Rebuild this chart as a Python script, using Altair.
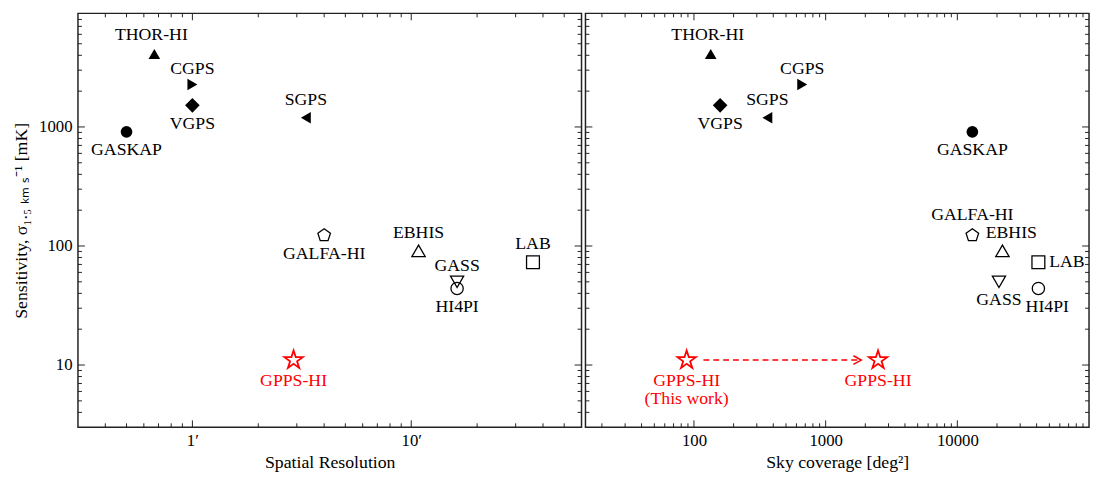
import math
import altair as alt
import pandas as pd

# ------------------------------------------------------------------ data
surveys = ["THOR-HI", "CGPS", "VGPS", "GASKAP", "SGPS",
           "GALFA-HI", "EBHIS", "GASS", "HI4PI", "LAB"]
resolution_arcmin = [0.67, 1.0, 1.0, 0.5, 3.3, 4.0, 10.8, 16.2, 16.2, 36.0]
sensitivity_mK = [4100, 2270, 1520, 910, 1195, 123, 91, 50, 44, 73]
sky_coverage_deg2 = [134, 664, 158, 13000, 361, 13000, 22000, 20700, 41253, 41253]

gpps_name = "GPPS-HI"
gpps_resolution_arcmin = [2.9]
gpps_sensitivity_mK = [11.0, 11.0]
gpps_coverage_deg2 = [88, 2500]
gpps_right_labels = ["GPPS-HI\n(This work)", "GPPS-HI"]

# tick values
y_major = [10, 100, 1000]
y_minor = [4, 5, 6, 7, 8, 9, 20, 30, 40, 50, 60, 70, 80, 90,
           200, 300, 400, 500, 600, 700, 800, 900, 2000, 3000, 4000, 5000, 6000, 7000, 8000]
res_major = [1, 10]
res_minor = [0.4, 0.5, 0.6, 0.7, 0.8, 0.9, 2, 3, 4, 5, 6, 7, 8, 9, 20, 30, 40, 50]
cov_major = [100, 1000, 10000]
cov_minor = [20, 30, 40, 50, 60, 70, 80, 90, 200, 300, 400, 500, 600, 700, 800, 900,
             2000, 3000, 4000, 5000, 6000, 7000, 8000, 9000,
             20000, 30000, 40000, 50000, 60000, 70000, 80000, 90000]

# ------------------------------------------------------------------ style
marker = ["triangle-up", "triangle-right", "diamond", "circle", "triangle-left",
          "pentagon", "triangle-up-open", "triangle-down", "circle-open", "square"]
marker_filled = [True, True, True, True, True, False, False, False, False, False]
place_left = ["above-high", "above-low", "below", "below", "above",
              "below", "above", "above-low", "below", "above"]
place_right = ["above-high", "above-low", "below", "below", "above",
               "above-top", "above-right", "below", "below-right", "right"]

FONT = "Liberation Serif"
FRAME = "#222222"
W, H = 511, 420


def poly_path(n, r_out, r_in=None):
    pts = []
    k = 2 * n if r_in else n
    for i in range(k):
        ang = math.radians(-90 + 360.0 * i / k)
        r = r_out if (r_in is None or i % 2 == 0) else r_in
        pts.append(f"{r * math.cos(ang):.4f},{r * math.sin(ang):.4f}")
    return "M" + "L".join(pts) + "Z"


STAR = poly_path(5, 1.0, 0.382)
PENTAGON = poly_path(5, 1.0)
CHEVRON = "M-1,-0.55L0,0L-1,0.55"

shape_map = {
    "triangle-up": ("triangle-up", 140), "triangle-right": ("triangle-right", 135),
    "diamond": ("diamond", 220), "circle": ("circle", 140),
    "triangle-left": ("triangle-left", 135), "pentagon": (PENTAGON, 180),
    "triangle-up-open": ("triangle-up", 185), "triangle-down": ("triangle-down", 180),
    "circle-open": ("circle", 155), "square": ("square", 170),
}
shape_dom = list(shape_map.keys())
shape_rng = [shape_map[k][0] for k in shape_dom]
size_rng = [shape_map[k][1] for k in shape_dom]

placements = {
    "above": (0, -18, "center"),
    "above-high": (-3, -19, "center"),
    "above-top": (0, -21, "center"),
    "above-low": (0, -16, "center"),
    "below": (0, 19, "center"),
    "above-right": (9, -18, "center"),
    "below-right": (9, 19, "center"),
    "right": (11, 0, "left"),
}

df = pd.DataFrame({
    "survey": surveys, "res": resolution_arcmin, "sens": sensitivity_mK,
    "cov": sky_coverage_deg2, "marker": marker, "filled": marker_filled,
    "pl": place_left, "pr": place_right,
})
gpps_left = pd.DataFrame({"res": gpps_resolution_arcmin, "sens": gpps_sensitivity_mK[:1],
                          "label": [gpps_name]})
gpps_right = pd.DataFrame({"cov": gpps_coverage_deg2, "sens": gpps_sensitivity_mK,
                           "label": gpps_right_labels})
arrow_df = pd.DataFrame({"start": [gpps_coverage_deg2[0]], "end": [gpps_coverage_deg2[1]],
                         "sens": [gpps_sensitivity_mK[0]]})

yscale = alt.Scale(type="log", domain=[3, 9000], nice=False)
yaxis_left = alt.Axis(title="Sensitivity, σ₁.₅ ₖₘ ₛ⁻¹ [mK]", values=y_major, format="d",
                      ticks=False, domain=False, grid=False, labelPadding=6, titlePadding=8)
res_scale = alt.Scale(type="log", domain=[0.3, 60], nice=False)
res_axis = alt.Axis(title="Spatial Resolution", values=res_major, labelExpr="datum.value + '′'",
                    ticks=False, domain=False, grid=False, labelPadding=6, titlePadding=5)
cov_scale = alt.Scale(type="log", domain=[15, 100000], nice=False)
cov_axis = alt.Axis(title="Sky coverage [deg²]", values=cov_major, format="d",
                    ticks=False, domain=False, grid=False, labelPadding=6, titlePadding=5)


def panel(xfield, xscale, xaxis, yaxis, place_col, major_x, minor_x, extra):
    def X(f):
        return alt.X(f, type="quantitative", scale=xscale, axis=xaxis)

    def Y(f):
        return alt.Y(f, type="quantitative", scale=yscale, axis=yaxis)

    layers = []
    # inward ticks on all four sides
    for vals, ln in ((major_x, 7), (minor_x, 4)):
        c = alt.Chart(pd.DataFrame({"v": vals}))
        layers.append(c.mark_rule(color=FRAME, strokeWidth=1).encode(
            x=X("v"), y=alt.value(H), y2=alt.value(H - ln)))
        layers.append(c.mark_rule(color=FRAME, strokeWidth=1).encode(
            x=X("v"), y=alt.value(0), y2=alt.value(ln)))
    for vals, ln in ((y_major, 7), (y_minor, 4)):
        c = alt.Chart(pd.DataFrame({"v": vals}))
        layers.append(c.mark_rule(color=FRAME, strokeWidth=1).encode(
            y=Y("v"), x=alt.value(0), x2=alt.value(ln)))
        layers.append(c.mark_rule(color=FRAME, strokeWidth=1).encode(
            y=Y("v"), x=alt.value(W), x2=alt.value(W - ln)))

    base = alt.Chart(df)
    shp = alt.Shape("marker:N", scale=alt.Scale(domain=shape_dom, range=shape_rng), legend=None)
    siz = alt.Size("marker:N", scale=alt.Scale(type="ordinal", domain=shape_dom, range=size_rng),
                   legend=None)
    layers.append(base.transform_filter("datum.filled").mark_point(
        filled=True, color="black", opacity=1).encode(x=X(xfield), y=Y("sens"), shape=shp, size=siz))
    layers.append(base.transform_filter("!datum.filled").mark_point(
        filled=False, color="black", opacity=1, strokeWidth=1.3).encode(
        x=X(xfield), y=Y("sens"), shape=shp, size=siz))
    for name, (dx, dy, align) in placements.items():
        layers.append(base.transform_filter(alt.datum[place_col] == name).mark_text(
            dx=dx, dy=dy, align=align, baseline="middle", font=FONT, fontSize=18,
            color="black").encode(x=X(xfield), y=Y("sens"), text="survey:N"))
    layers.extend(extra(X, Y))
    return alt.layer(*layers).properties(width=W, height=H)


def left_extra(X, Y):
    c = alt.Chart(gpps_left)
    return [
        c.mark_point(shape=STAR, size=380, filled=False, color="red", strokeWidth=1.8,
                     opacity=1).encode(x=X("res"), y=Y("sens")),
        c.mark_text(dy=12, baseline="top", align="center", font=FONT, fontSize=18,
                    color="red").encode(x=X("res"), y=Y("sens"), text="label:N"),
    ]


def right_extra(X, Y):
    c = alt.Chart(gpps_right)
    a = alt.Chart(arrow_df)
    return [
        a.mark_rule(color="red", strokeWidth=1.5, strokeDash=[6, 4], xOffset=17,
                    x2Offset=-18).encode(x=X("start"), x2="end:Q", y=Y("sens")),
        a.mark_point(shape=CHEVRON, size=256, filled=False, color="red", strokeWidth=1.5,
                     opacity=1, xOffset=-17).encode(x=X("end"), y=Y("sens")),
        c.mark_point(shape=STAR, size=380, filled=False, color="red", strokeWidth=1.8,
                     opacity=1).encode(x=X("cov"), y=Y("sens")),
        c.mark_text(dy=12, baseline="top", align="center", font=FONT, fontSize=18,
                    color="red", lineBreak="\n", lineHeight=19).encode(
            x=X("cov"), y=Y("sens"), text="label:N"),
    ]


left = panel("res", res_scale, res_axis, yaxis_left, "pl", res_major, res_minor, left_extra)
right = panel("cov", cov_scale, cov_axis, None, "pr", cov_major, cov_minor, right_extra)

chart = alt.hconcat(left, right, spacing=0,
                    padding={"left": 4, "top": 0, "right": 0, "bottom": 0}).configure(
    font=FONT
).configure_view(stroke=FRAME, strokeWidth=1.5).configure_axis(
    labelFont=FONT, titleFont=FONT, labelColor="black", titleColor="black",
    labelFontSize=17, titleFontSize=18, titleFontWeight="normal", grid=False
)

chart.save("out.html", embed_options={"renderer": "svg", "actions": False})
